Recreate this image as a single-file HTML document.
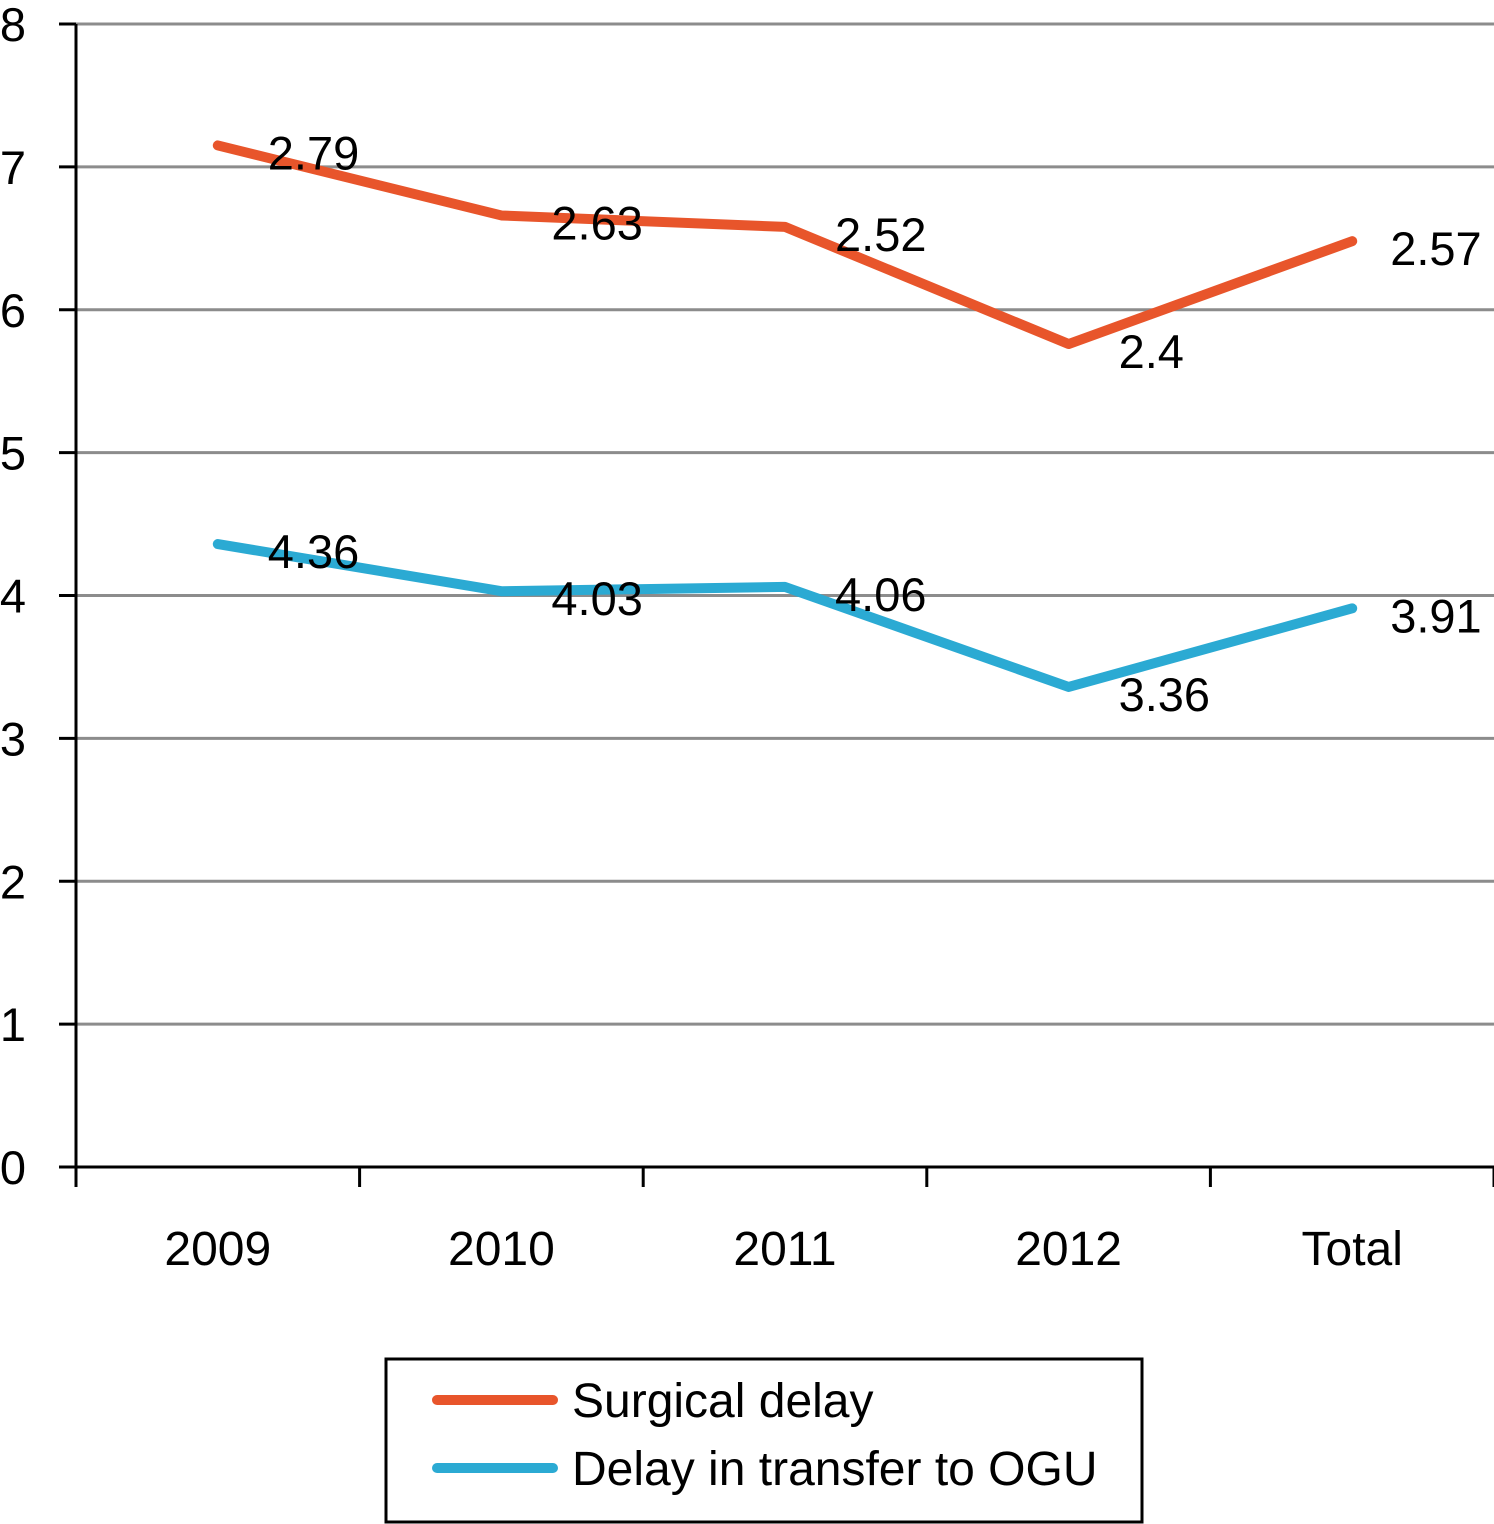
<!DOCTYPE html>
<html><head><meta charset="utf-8"><style>
html,body{margin:0;padding:0;background:#fff;}
svg{display:block;font-family:"Liberation Sans",Arial,sans-serif;}
</style></head><body>
<svg id="chart" width="1494" height="1524" viewBox="0 0 1494 1524">
<g id="grid"></g>
<g id="axes"></g>
<g id="series"></g>
<g id="labels"></g>
<g>
<rect x="386" y="1359" width="756" height="163" fill="#fff" stroke="#000" stroke-width="3"/>
<line x1="437" y1="1400" x2="553" y2="1400" stroke="#E8552B" stroke-width="10" stroke-linecap="round"/>
<text x="572" y="1417" font-size="48">Surgical delay</text>
<line x1="437" y1="1468" x2="553" y2="1468" stroke="#2BAAD3" stroke-width="10" stroke-linecap="round"/>
<text x="572" y="1485" font-size="48">Delay in transfer to OGU</text>
</g>
</svg>
<script>
const categories = ["2009","2010","2011","2012","Total"];
const transferDelay = [4.36,4.03,4.06,3.36,3.91];
const surgicalDelay = [2.79,2.63,2.52,2.4,2.57];
const yTicks = [0,1,2,3,4,5,6,7,8];
const NS="http://www.w3.org/2000/svg";
const x0=76,x1=1494,yZero=1167,yTop=24,yMax=8;
const bw=(x1-x0)/categories.length;
const xs=i=>x0+bw*(i+0.5);
const ys=v=>yZero-(v/yMax)*(yZero-yTop);
function mk(tag,attrs,parent,txt){const e=document.createElementNS(NS,tag);for(const k in attrs)e.setAttribute(k,attrs[k]);if(txt!==undefined)e.textContent=txt;parent.appendChild(e);return e;}
const grid=document.getElementById('grid'),axes=document.getElementById('axes'),ser=document.getElementById('series'),lab=document.getElementById('labels');
yTicks.forEach(t=>{
  if(t>0){const g=mk('line',{x1:x0,x2:x1,y1:ys(t),y2:ys(t),stroke:'#8c8c8c','stroke-width':3},grid);
  
  }
  const tk=mk('line',{x1:59,x2:x0,y1:ys(t),y2:ys(t),stroke:'#000','stroke-width':3},axes);
  
  
  const tl=mk('text',{x:26,y:ys(t)+17,'font-size':47,'text-anchor':'end'},axes,String(t));
  
  
});
const ya=mk('line',{x1:x0,x2:x0,y1:yTop,y2:yZero+20,stroke:'#000','stroke-width':3},axes);


const xa=mk('line',{x1:59,x2:x1,y1:yZero,y2:yZero,stroke:'#000','stroke-width':3},axes);


for(let i=1;i<=categories.length;i++){const t=mk('line',{x1:x0+bw*i,x2:x0+bw*i,y1:yZero,y2:yZero+20,stroke:'#000','stroke-width':3},axes);

}
categories.forEach((c,i)=>{const t=mk('text',{x:xs(i),y:1265,'font-size':48,'text-anchor':'middle'},axes,c);

});
const stacked=surgicalDelay.map((v,i)=>v+transferDelay[i]);
function line(vals,color,name){
  const p=mk('polyline',{points:vals.map((v,i)=>xs(i)+','+ys(v)).join(' '),fill:'none',stroke:color,'stroke-width':10,'stroke-linecap':'round','stroke-linejoin':'round'},ser);
  
  
}
line(stacked,'#E8552B','surgical-delay-line');
line(transferDelay,'#2BAAD3','transfer-delay-line');
function labels(vals,pos,name){
  vals.forEach((v,i)=>{const t=mk('text',{x:xs(i)+(i===4?38:50),y:ys(pos[i])+24,'font-size':47},lab,String(v));
  
  });
}
labels(surgicalDelay,stacked,'surgical-label');
labels(transferDelay,transferDelay,'transfer-label');
</script>
</body></html>
